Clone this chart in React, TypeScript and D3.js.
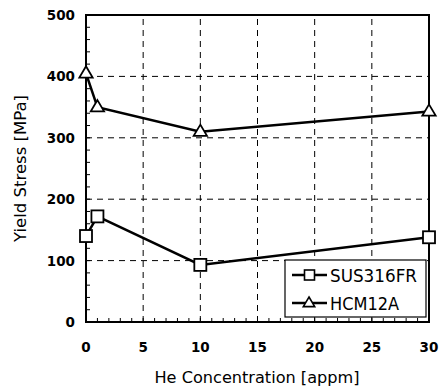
import React from "react";
import * as d3 from "d3";

const heConc = [0, 1, 10, 30];
const sus316fr = [140, 172, 93, 138];
const hcm12a = [405, 350, 310, 343];
const xTicks = [0, 5, 10, 15, 20, 25, 30];
const yTicks = [0, 100, 200, 300, 400, 500];
const seriesNames = ["SUS316FR", "HCM12A"];

const W = 440, H = 389;
const M = { left: 86, right: 11, top: 15, bottom: 67 };

export default function App() {
  const x = d3.scaleLinear().domain([0, 30]).range([M.left, W - M.right]);
  const y = d3.scaleLinear().domain([0, 500]).range([H - M.bottom, M.top]);
  const line = d3.line<[number, number]>().x(d => x(d[0])).y(d => y(d[1]));
  const d1 = heConc.map((c, i) => [c, sus316fr[i]] as [number, number]);
  const d2 = heConc.map((c, i) => [c, hcm12a[i]] as [number, number]);
  const xMinor = d3.range(0, 31, 1);
  const yMinor = d3.range(0, 501, 20);
  const font = "'DejaVu Sans', Verdana, sans-serif";
  const tri = (cx: number, cy: number, s = 7) =>
    `M${cx},${cy - s}L${cx + s * 0.95},${cy + s * 0.6}L${cx - s * 0.95},${cy + s * 0.6}Z`;
  const lx = 285, ly = 260;
  return (
    <svg width={W} height={H} style={{ position: "absolute", left: 0, top: 0, background: "#fff" }}>
      <rect width={W} height={H} fill="#fff" />
      {/* grid */}
      {xTicks.slice(1, -1).map(t => (
        <line key={"gx" + t} x1={x(t)} x2={x(t)} y1={y(0)} y2={y(500)} stroke="#000" strokeWidth={1} strokeDasharray="6,5" />
      ))}
      {yTicks.slice(1, -1).map(t => (
        <line key={"gy" + t} x1={x(0)} x2={x(30)} y1={y(t)} y2={y(t)} stroke="#000" strokeWidth={1} strokeDasharray="6,5" />
      ))}
      {/* minor ticks */}
      {xMinor.map(t => (
        <line key={"mx" + t} x1={x(t)} x2={x(t)} y1={y(0)} y2={y(0) - 4} stroke="#000" strokeWidth={1} />
      ))}
      {yMinor.map(t => (
        <line key={"my" + t} x1={x(0)} x2={x(0) + 4} y1={y(t)} y2={y(t)} stroke="#000" strokeWidth={1} />
      ))}
      {/* frame */}
      <rect x={x(0)} y={y(500)} width={x(30) - x(0)} height={y(0) - y(500)} fill="none" stroke="#000" strokeWidth={2} />
      {/* series */}
      <path d={line(d1)!} fill="none" stroke="#000" strokeWidth={2.5} />
      <path d={line(d2)!} fill="none" stroke="#000" strokeWidth={2.5} />
      {d1.map((p, i) => (
        <rect key={"s" + i} x={x(p[0]) - 6} y={y(p[1]) - 6} width={12} height={12} fill="#fff" stroke="#000" strokeWidth={1.8} />
      ))}
      {d2.map((p, i) => (
        <path key={"t" + i} d={tri(x(p[0]), y(p[1]))} fill="#fff" stroke="#000" strokeWidth={1.8} />
      ))}
      {/* tick labels */}
      {xTicks.map(t => (
        <text key={"xl" + t} x={x(t)} y={y(0) + 30} textAnchor="middle" fontFamily={font} fontWeight="bold" fontSize={13.5}>{t}</text>
      ))}
      {yTicks.map(t => (
        <text key={"yl" + t} x={x(0) - 11} y={y(t) + 5} textAnchor="end" fontFamily={font} fontWeight="bold" fontSize={13.5}>{t}</text>
      ))}
      {/* axis titles */}
      <text x={257} y={383} textAnchor="middle" fontFamily={font} fontSize={16} textLength={205} lengthAdjust="spacingAndGlyphs">He Concentration [appm]</text>
      <text transform={`translate(26,${(y(0) + y(500)) / 2}) rotate(-90)`} textAnchor="middle" fontFamily={font} fontSize={15.5} textLength={147} lengthAdjust="spacingAndGlyphs">Yield Stress [MPa]</text>
      {/* legend */}
      <rect x={lx} y={ly} width={141} height={57} fill="#fff" stroke="#000" strokeWidth={1.2} />
      {seriesNames.map((n, i) => {
        const cy = ly + 15 + i * 28;
        return (
          <g key={n}>
            <line x1={lx + 7} x2={lx + 42} y1={cy} y2={cy} stroke="#000" strokeWidth={2.5} />
            {i === 0 ? (
              <rect x={lx + 19.5} y={cy - 5} width={10} height={10} fill="#fff" stroke="#000" strokeWidth={1.6} />
            ) : (
              <path d={tri(lx + 24, cy, 6)} fill="#fff" stroke="#000" strokeWidth={1.6} />
            )}
            <text x={lx + 45} y={cy + 7} fontFamily="'DejaVu Sans Condensed', 'DejaVu Sans', sans-serif" fontSize={18}
              textLength={i === 0 ? 87 : 69} lengthAdjust="spacingAndGlyphs">{n}</text>
          </g>
        );
      })}
    </svg>
  );
}
